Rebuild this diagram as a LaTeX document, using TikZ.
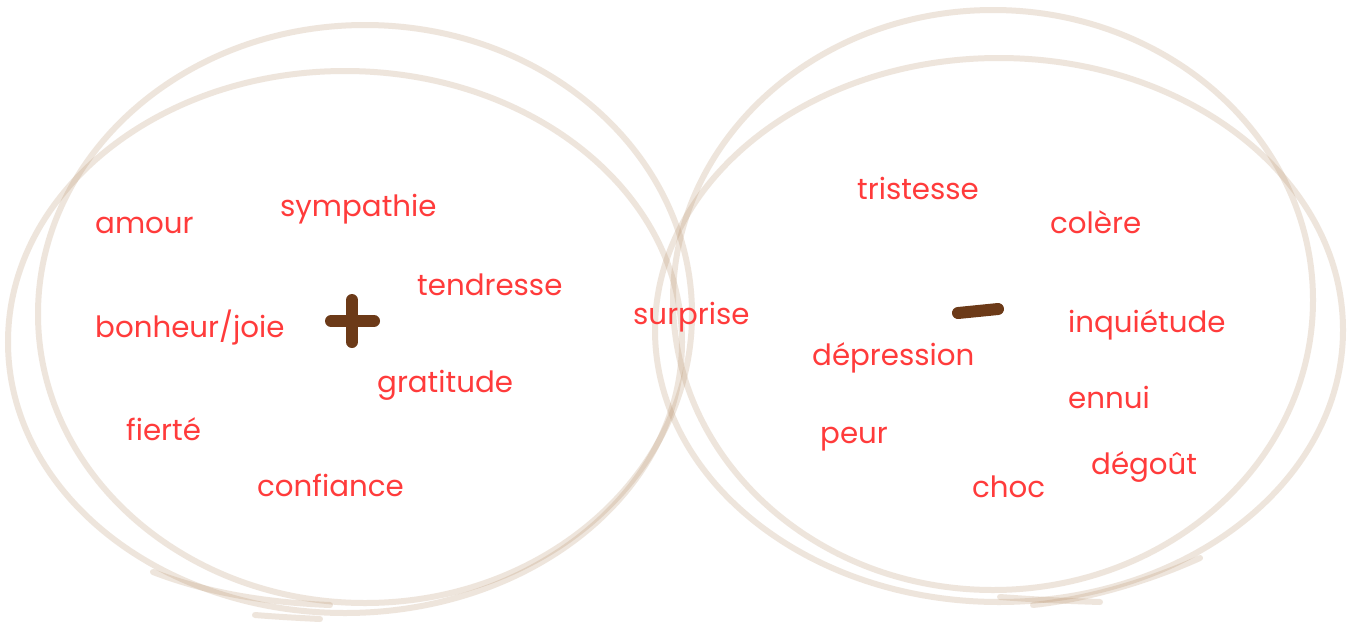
\documentclass[tikz,border=0pt]{standalone}
\usepackage{fontspec}
\setmainfont{Poppins}
\definecolor{loopc}{RGB}{180,140,100}
\definecolor{wordc}{RGB}{255,59,59}
\definecolor{signc}{RGB}{108,58,24}
\begin{document}
\begin{tikzpicture}[x=1pt,y=-1pt,
  loopline/.style={draw=loopc, line width=6pt, opacity=0.22, line cap=round},
  word/.style={text=wordc, font=\fontsize{29.3}{35}\selectfont, anchor=base west, inner sep=0pt},
  signline/.style={draw=signc, line width=12pt, line cap=round}]
\useasboundingbox (0,0) rectangle (1353,622);
\fill[white] (0,0) rectangle (1353,622);
% left loops
\draw[loopline] (365,314) ellipse [x radius=327, y radius=289];
\draw[loopline] (345,342) ellipse [x radius=337, y radius=271];
\draw[loopline] (153,572) .. controls (200,590) and (255,602) .. (330,605);
\draw[loopline] (255,615) .. controls (280,617) and (300,618) .. (320,619);
% right loops
\draw[loopline] (993,300) ellipse [x radius=320, y radius=290];
\draw[loopline] (999,330) ellipse [x radius=344, y radius=272];
\draw[loopline] (1200,558) .. controls (1140,585) and (1080,600) .. (1033,605);
\draw[loopline] (1000,597) .. controls (1040,600) and (1070,601) .. (1100,602);
% signs
\coordinate (p1) at (331,321); \coordinate (p2) at (374,321);
\coordinate (p3) at (352,300); \coordinate (p4) at (352,342);
\draw[signline] (p1) -- (p2);
\draw[signline] (p3) -- (p4);
\coordinate (m1) at (958,313); \coordinate (m2) at (998,309);
\draw[signline] (m1) -- (m2);
% words
\node[word] (amour) at (95,233) {amour};
\node[word] (sympathie) at (280,216) {sympathie};
\node[word] (tendresse) at (417,295) {tendresse};
\node[word] (bonheur) at (95,337) {bonheur/joie};
\node[word] (gratitude) at (377,392) {gratitude};
\node[word] (fierte) at (126,440) {fierté};
\node[word] (confiance) at (257,496) {confiance};
\node[word] (surprise) at (633,324) {surprise};
\node[word] (tristesse) at (857,199) {tristesse};
\node[word] (colere) at (1050,233) {colère};
\node[word] (inquietude) at (1068,332) {inquiétude};
\node[word] (depression) at (812,365) {dépression};
\node[word] (ennui) at (1068,408) {ennui};
\node[word] (peur) at (820,443) {peur};
\node[word] (degout) at (1091,474) {dégoût};
\node[word] (choc) at (972,497) {choc};
\end{tikzpicture}
\end{document}
